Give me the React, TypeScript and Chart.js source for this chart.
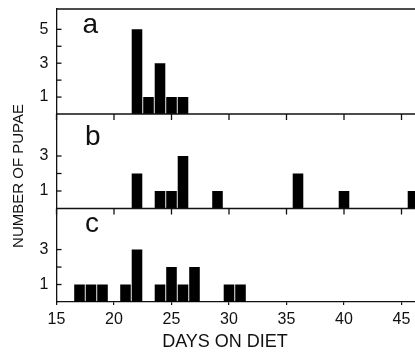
import React, { useEffect, useRef } from 'react';
import { Chart, registerables } from 'chart.js';

Chart.register(...registerables);

// ---- data ----
const daysA = [22, 23, 24, 25, 26];
const pupaeA = [5, 1, 3, 1, 1];
const daysB = [22, 24, 25, 26, 29, 36, 40, 46];
const pupaeB = [2, 1, 1, 3, 1, 2, 1, 1];
const daysC = [17, 18, 19, 21, 22, 24, 25, 26, 27, 30, 31];
const pupaeC = [1, 1, 1, 1, 3, 1, 2, 1, 2, 1, 1];

const xTicks = [15, 20, 25, 30, 35, 40, 45];
const yTicksA = [1, 2, 3, 4, 5];
const yTicksB = [1, 2, 3];
const yTicksC = [1, 2, 3];
const yLabelsA = [1, 3, 5];
const yLabelsB = [1, 3];
const yLabelsC = [1, 3];

const panelLetters = ['a', 'b', 'c'];
const xTitle = 'DAYS ON DIET';
const yTitle = 'NUMBER OF PUPAE';

const INK = '#111';
const FONT = "'Liberation Sans', Arial, sans-serif";

function makeY(ticks: number[], labels: number[], max: number, weight: number) {
  return {
    type: 'linear',
    position: 'left',
    stack: 'panels',
    stackWeight: weight,
    offset: false,
    min: 0,
    max,
    afterBuildTicks: (s: any) => {
      s.ticks = ticks.map((v) => ({ value: v }));
    },
    afterFit: (s: any) => {
      s.width = 56.5;
      s.paddingTop = 0;
      s.paddingBottom = 0;
    },
    ticks: {
      autoSkip: false,
      padding: 8,
      color: INK,
      font: { family: FONT, size: 16 },
      callback: (v: any) => (labels.includes(Number(v)) ? String(v) : ''),
    },
    grid: { display: false, drawOnChartArea: false, drawTicks: false },
    border: { display: true, color: INK, width: 1.3 },
  };
}

const panelPlugin = {
  id: 'panelDecor',
  afterDatasetsDraw(chart: any) {
    const ctx = chart.ctx;
    const { left, right } = chart.chartArea;
    const x = chart.scales.x;
    const panels = [chart.scales.ya, chart.scales.yb, chart.scales.yc];
    const tickSets = [yTicksA, yTicksB, yTicksC];
    const letterDx = [26, 28.5, 28.5];
    const letterDy = [24, 31, 23.5];
    ctx.save();
    ctx.strokeStyle = INK;
    ctx.lineWidth = 1.3;
    panels.forEach((s: any, i: number) => {
      ctx.beginPath();
      ctx.moveTo(left, s.top);
      ctx.lineTo(right, s.top);
      ctx.stroke();
      tickSets[i].forEach((v) => {
        const py = s.getPixelForValue(v);
        ctx.beginPath();
        ctx.moveTo(left, py);
        ctx.lineTo(left + 5, py);
        ctx.stroke();
      });
      if (i > 0) {
        xTicks.forEach((v) => {
          const px = x.getPixelForValue(v);
          ctx.beginPath();
          ctx.moveTo(px, s.top);
          ctx.lineTo(px, s.top + 6);
          ctx.stroke();
        });
      }
      ctx.fillStyle = INK;
      ctx.font = `28px ${FONT}`;
      ctx.textAlign = 'left';
      ctx.textBaseline = 'alphabetic';
      ctx.fillText(panelLetters[i], left + letterDx[i], s.top + letterDy[i]);
    });
    // x title
    ctx.font = `18px ${FONT}`;
    ctx.textAlign = 'center';
    ctx.textBaseline = 'alphabetic';
    ctx.fillText(xTitle, 225, 347);
    // y title
    ctx.translate(23, 176);
    ctx.rotate(-Math.PI / 2);
    ctx.font = `15px ${FONT}`;
    ctx.textAlign = 'center';
    ctx.textBaseline = 'alphabetic';
    ctx.fillText(yTitle, 0, 0);
    ctx.restore();
  },
};

export default function App() {
  const ref = useRef<HTMLCanvasElement | null>(null);

  useEffect(() => {
    if (!ref.current) return;
    const mk = (days: number[], vals: number[], axis: string) => ({
      type: 'bar',
      data: days.map((d, i) => ({ x: d, y: vals[i] })),
      yAxisID: axis,
      xAxisID: 'x',
      backgroundColor: '#000',
      borderWidth: 0,
      grouped: false,
      barPercentage: 0.92,
      categoryPercentage: 1,
    });
    const chart = new Chart(ref.current, {
      type: 'bar',
      data: {
        datasets: [mk(daysA, pupaeA, 'ya'), mk(daysB, pupaeB, 'yb'), mk(daysC, pupaeC, 'yc')] as any,
      },
      options: {
        animation: false,
        responsive: true,
        maintainAspectRatio: false,
        layout: { padding: { top: 9, right: 4, left: 0, bottom: 0 } },
        plugins: { legend: { display: false }, tooltip: { enabled: false } },
        scales: {
          x: {
            type: 'linear',
            position: 'bottom',
            offset: false,
            min: 15,
            max: 48,
            afterBuildTicks: (s: any) => {
              s.ticks = xTicks.map((v) => ({ value: v }));
            },
            afterFit: (s: any) => {
              s.height = 50;
            },
            ticks: { padding: 5, color: INK, font: { family: FONT, size: 16 }, autoSkip: false },
            grid: {
              display: true,
              offset: false,
              drawOnChartArea: false,
              drawTicks: true,
              tickLength: 3,
              color: INK,
              lineWidth: 1.2,
            },
            border: { display: true, color: INK, width: 1.3 },
            title: { display: false },
          },
          yc: makeY(yTicksC, yLabelsC, 5.35, 93.5),
          yb: makeY(yTicksB, yLabelsB, 5.4, 94.5),
          ya: makeY(yTicksA, yLabelsA, 6.2, 105),
        } as any,
      },
      plugins: [panelPlugin],
    } as any);
    return () => chart.destroy();
  }, []);

  return (
    <div
      style={{
        position: 'fixed',
        left: 0,
        top: 0,
        width: 415,
        height: 352,
        overflow: 'hidden',
        background: '#fff',
      }}
    >
      <div style={{ position: 'relative', width: 440, height: 352 }}>
        <canvas ref={ref} />
      </div>
    </div>
  );
}
